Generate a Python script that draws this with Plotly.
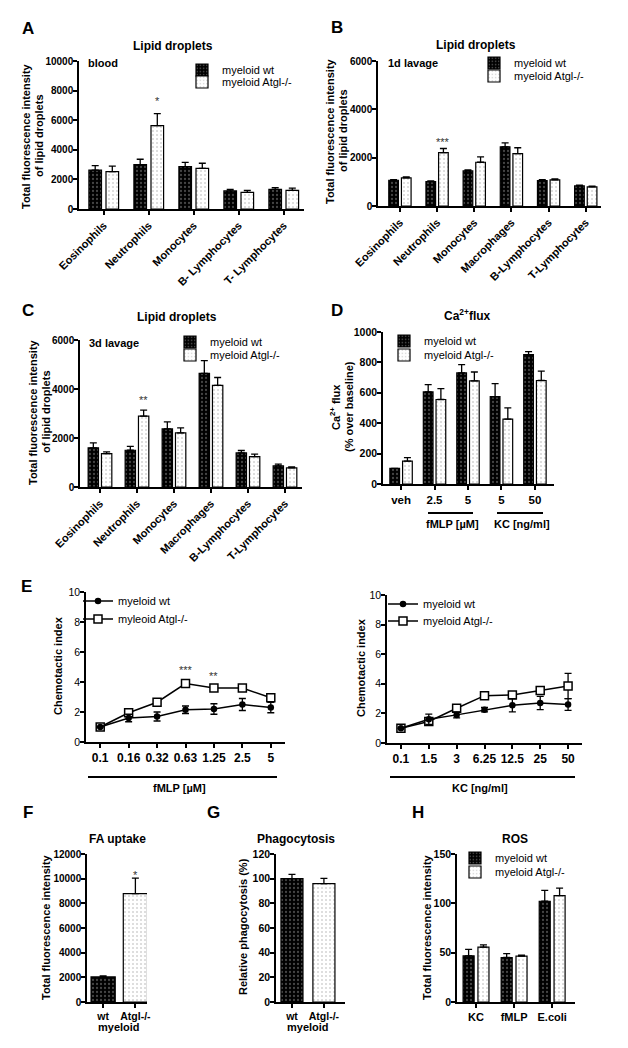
import plotly.graph_objects as go

# the page puts the figure 8px in from the window's top-left corner
W, H = 628, 1048
OX, OY = 8, 8
FW, FH = W - OX, H - OY
FONT = "Liberation Sans"

# A - lipid droplets, blood
a_cells = ["Eosinophils", "Neutrophils", "Monocytes", "B- Lymphocytes", "T- Lymphocytes"]
a_wt = [2630, 3000, 2860, 1220, 1330]
a_wt_err = [300, 360, 290, 110, 110]
a_ko = [2520, 5630, 2750, 1130, 1260]
a_ko_err = [380, 810, 340, 130, 150]

# B - lipid droplets, 1d lavage
b_cells = ["Eosinophils", "Neutrophils", "Monocytes", "Macrophages", "B-Lymphocytes", "T-Lymphocytes"]
b_wt = [1065, 1010, 1450, 2450, 1050, 830]
b_wt_err = [30, 30, 40, 160, 40, 30]
b_ko = [1160, 2210, 1810, 2170, 1080, 790]
b_ko_err = [40, 170, 220, 240, 40, 30]

# C - lipid droplets, 3d lavage
c_cells = ["Eosinophils", "Neutrophils", "Monocytes", "Macrophages", "B-Lymphocytes", "T-Lymphocytes"]
c_wt = [1600, 1500, 2370, 4640, 1390, 860]
c_wt_err = [200, 160, 290, 520, 100, 70]
c_ko = [1360, 2890, 2210, 4150, 1240, 780]
c_ko_err = [70, 250, 200, 320, 100, 40]

# D - Ca2+ flux
d_labels = ["veh", "2.5", "5", "5", "50"]
d_wt = [103, 606, 731, 575, 851]
d_wt_err = [0, 48, 54, 86, 20]
d_ko = [151, 556, 678, 427, 681]
d_ko_err = [22, 72, 59, 74, 61]

# E - chemotaxis
e_fmlp = ["0.1", "0.16", "0.32", "0.63", "1.25", "2.5", "5"]
e_fmlp_wt = [1.0, 1.6, 1.7, 2.15, 2.2, 2.5, 2.3]
e_fmlp_wt_err = [0, 0.25, 0.3, 0.25, 0.35, 0.4, 0.35]
e_fmlp_ko = [1.0, 1.95, 2.65, 3.9, 3.6, 3.6, 2.95]
e_fmlp_ko_err = [0, 0.15, 0.1, 0.15, 0.15, 0.2, 0.2]

e_kc = ["0.1", "1.5", "3", "6.25", "12.5", "25", "50"]
e_kc_wt = [1.0, 1.6, 1.9, 2.25, 2.55, 2.7, 2.6]
e_kc_wt_err = [0, 0.35, 0.2, 0.15, 0.45, 0.45, 0.4]
e_kc_ko = [1.0, 1.45, 2.35, 3.2, 3.25, 3.55, 3.85]
e_kc_ko_err = [0, 0.1, 0.15, 0.2, 0.15, 0.15, 0.85]

# F - FA uptake
f_groups = ["wt", "Atgl-/-"]
f_vals = [2030, 8780]
f_err = [80, 1270]

# G - phagocytosis
g_groups = ["wt", "Atgl-/-"]
g_vals = [100, 96]
g_err = [3.5, 4.3]

# H - ROS
h_stim = ["KC", "fMLP", "E.coli"]
h_wt = [46.8, 45.1, 102.1]
h_wt_err = [6.5, 4.0, 11.0]
h_ko = [55.6, 46.5, 107.9]
h_ko_err = [2.2, 1.0, 7.5]

WT_MARKER = dict(color="black", line=dict(color="black", width=1.2),
                 pattern=dict(shape=".", bgcolor="black", fgcolor="#8a8a8a", size=4, solidity=0.25))
KO_MARKER = dict(color="white", line=dict(color="black", width=1.2),
                 pattern=dict(shape=".", bgcolor="white", fgcolor="#a8a8a8", size=4, solidity=0.2))

fig = go.Figure()
annotations = []
shapes = []


def px(x):
    return (x - OX) / FW


def py(y):
    return 1 - (y - OY) / FH


def sfx(n):
    return "" if n == 1 else str(n)


def err(vals, up_only=True):
    d = dict(type="data", array=vals, color="black", thickness=1.3, width=3.5)
    if up_only:
        d.update(symmetric=False, arrayminus=[0] * len(vals))
    return d


def bar_pair(n, wt, wt_e, ko, ko_e, w, gap, legs):
    x = list(range(len(wt)))
    fig.add_trace(go.Bar(x=x, y=wt, width=w, offset=-w - gap / 2, marker=WT_MARKER,
                         error_y=err(wt_e), name="myeloid wt", legend=legs[0],
                         xaxis="x" + sfx(n), yaxis="y" + sfx(n)))
    fig.add_trace(go.Bar(x=x, y=ko, width=w, offset=gap / 2, marker=KO_MARKER,
                         error_y=err(ko_e), name="myeloid Atgl-/-", legend=legs[1],
                         xaxis="x" + sfx(n), yaxis="y" + sfx(n)))


def axis_pair(n, xpx, ypx, labels, xrange, yrange, dtick, xangle=0, xsize=11,
              yweight="bold", ysize=10.5, xticks=True):
    s = sfx(n)
    base = dict(showline=True, linecolor="black", linewidth=1.5, showgrid=False,
                zeroline=False, ticks="outside", tickcolor="black", tickwidth=1.5,
                fixedrange=True, automargin=False)
    fig.update_layout(**{
        "xaxis" + s: dict(base, domain=[px(xpx[0]), px(xpx[1])], anchor="y" + s, range=xrange,
                          tickmode="array", tickvals=list(range(len(labels))),
                          ticktext=labels, tickangle=xangle,
                          ticklen=4 if xticks else 0,
                          tickfont=dict(family=FONT, size=xsize, color="black", weight="bold")),
        "yaxis" + s: dict(base, domain=[py(ypx[1]), py(ypx[0])], anchor="x" + s, range=yrange,
                          tick0=0, dtick=dtick, ticklen=4, tickformat="d", ticklabelstandoff=-2,
                          tickfont=dict(family=FONT, size=ysize, color="black", weight=yweight)),
    })


def text(t, x, y, size=11, bold=True, xanchor="center", angle=0):
    annotations.append(dict(text=t, x=px(x), y=py(y), xref="paper", yref="paper",
                            xanchor=xanchor, yanchor="middle", showarrow=False, textangle=angle,
                            font=dict(family=FONT, size=size, color="black",
                                      weight="bold" if bold else "normal")))


def star(t, n, x, y):
    annotations.append(dict(text=t, x=x, y=y, xref="x" + sfx(n), yref="y" + sfx(n),
                            showarrow=False, yanchor="middle",
                            font=dict(family=FONT, size=11, color="#333333")))


def hline(x0, x1, y):
    shapes.append(dict(type="line", xref="paper", yref="paper", x0=px(x0), x1=px(x1),
                       y0=py(y), y1=py(y), line=dict(color="black", width=2)))


# ---- A
bar_pair(1, a_wt, a_wt_err, a_ko, a_ko_err, 0.28, 0.1, ["legend", "legend2"])
axis_pair(1, (79, 304), (61, 209), a_cells, [-0.55, 4.45], [0, 10000], 2000, xangle=-45, ysize=10)
# ---- B
bar_pair(2, b_wt, b_wt_err, b_ko, b_ko_err, 0.26, 0.08, ["legend3", "legend4"])
axis_pair(2, (378, 601), (61, 206), b_cells, [-0.59, 5.41], [0, 6000], 2000, xangle=-45, ysize=10)
# ---- C
bar_pair(3, c_wt, c_wt_err, c_ko, c_ko_err, 0.28, 0.08, ["legend5", "legend6"])
axis_pair(3, (80, 302), (340, 487), c_cells, [-0.54, 5.46], [0, 6000], 2000, xangle=-45, ysize=10)
# ---- D
bar_pair(4, d_wt, d_wt_err, d_ko, d_ko_err, 0.29, 0.09, ["legend7", "legend8"])
axis_pair(4, (383, 554), (332, 484), d_labels, [-0.54, 4.57], [0, 1000], 200, xsize=11.5)

# ---- E (two line charts)
for n, labels, wt, wt_e, ko, ko_e, legs in [
    (5, e_fmlp, e_fmlp_wt, e_fmlp_wt_err, e_fmlp_ko, e_fmlp_ko_err, ["legend9", "legend10"]),
    (6, e_kc, e_kc_wt, e_kc_wt_err, e_kc_ko, e_kc_ko_err, ["legend11", "legend12"]),
]:
    x = list(range(len(labels)))
    fig.add_trace(go.Scatter(x=x, y=ko, mode="lines+markers", name="myleoid Atgl-/-" if n == 5 else "myeloid Atgl-/-",
                             line=dict(color="black", width=1.5),
                             marker=dict(symbol="square", size=8, color="white", line=dict(color="black", width=1.5)),
                             error_y=err(ko_e, up_only=False), legend=legs[1],
                             xaxis="x" + sfx(n), yaxis="y" + sfx(n)))
    fig.add_trace(go.Scatter(x=x, y=wt, mode="lines+markers", name="myeloid wt",
                             line=dict(color="black", width=1.5),
                             marker=dict(symbol="circle", size=6.5, color="black"),
                             error_y=err(wt_e, up_only=False), legend=legs[0],
                             xaxis="x" + sfx(n), yaxis="y" + sfx(n)))
axis_pair(5, (86, 285), (592, 742), e_fmlp, [-0.5, 6.5], [0, 10], 2, xsize=12, yweight="normal", ysize=10.5)
axis_pair(6, (387, 582), (595, 743), e_kc, [-0.5, 6.5], [0, 10], 2, xsize=12, yweight="normal", ysize=10.5)

# ---- F, G (single bars)
for n, vals, e in [(7, f_vals, f_err), (8, g_vals, g_err)]:
    w = 0.75 if n == 7 else 0.69
    for i, mk in enumerate([WT_MARKER, KO_MARKER]):
        fig.add_trace(go.Bar(x=[i], y=[vals[i]], width=w, offset=-w / 2, marker=mk,
                             error_y=err([e[i]]), showlegend=False,
                             xaxis="x" + sfx(n), yaxis="y" + sfx(n)))
axis_pair(7, (87, 147), (854, 1002), f_groups, [-0.5, 1.36], [0, 12000], 2000, xsize=10.5, ysize=10)
axis_pair(8, (276, 345), (854, 1002), g_groups, [-0.5, 1.66], [0, 120], 20, xsize=10.5)

# ---- H
bar_pair(9, h_wt, h_wt_err, h_ko, h_ko_err, 0.29, 0.1, ["legend13", "legend14"])
axis_pair(9, (457, 575), (854, 1002), h_stim, [-0.5, 2.6], [0, 150], 50)

# legends: one per entry so rows can sit as tight as in the original
legend_pos = {
    "legend": (222, 70), "legend2": (222, 82),
    "legend3": (514, 63), "legend4": (514, 76),
    "legend5": (210, 342), "legend6": (210, 355),
    "legend7": (424, 341), "legend8": (424, 355),
    "legend9": (118, 601), "legend10": (118, 619),
    "legend11": (423, 604), "legend12": (423, 621),
    "legend13": (495, 858), "legend14": (495, 872),
}
for key, (tx, ty) in legend_pos.items():
    fig.update_layout(**{key: dict(x=px(tx - 40), y=py(ty), xanchor="left", yanchor="middle",
                                   bgcolor="rgba(0,0,0,0)", borderwidth=0, itemwidth=30,
                                   tracegroupgap=0, itemclick=False, itemdoubleclick=False,
                                   font=dict(family=FONT, size=11, color="black"))})

# panel letters
for t, x, y in [("A", 28, 28), ("B", 337, 27), ("C", 28, 310), ("D", 337, 310),
                ("E", 26, 586), ("F", 28, 812), ("G", 213, 812), ("H", 418, 812)]:
    text(t, x, y, size=17)

# panel titles
for t, x, y in [("Lipid droplets", 173, 46), ("Lipid droplets", 476, 45), ("Lipid droplets", 177, 317),
                ("Ca<sup>2+</sup>flux", 467, 315), ("FA uptake", 117, 839),
                ("Phagocytosis", 296, 839), ("ROS", 515, 839)]:
    text(t, x, y, size=12)

text("blood", 86, 63, xanchor="left")
text("1d lavage", 386, 63, xanchor="left")
text("3d lavage", 87, 343, xanchor="left")

# y-axis titles (two-line ones as separate lines for tighter spacing)
for t, x, y in [("Total fluorescence intensity", 26, 136), ("of lipid droplets", 39, 136),
                ("Total fluorescence intensity", 330, 131), ("of lipid droplets", 343, 131),
                ("Total fluorescence intensity", 33, 412), ("of lipid droplets", 46, 412),
                ("Ca<sup>2+</sup> flux", 335, 407), ("(% over baseline)", 349, 407),
                ("Chemotactic index", 58, 666), ("Chemotactic index", 361, 668),
                ("Total fluorescence intensity", 46, 927),
                ("Relative phagocytosis (%)", 243, 927),
                ("Total fluorescence intensity", 427, 927)]:
    text(t, x, y, angle=-90)

# significance
star("*", 1, 1.19, 7300)
star("***", 2, 1.17, 2650)
star("**", 3, 1.18, 3550)
star("***", 5, 3, 4.8)
star("**", 5, 4, 4.4)
star("*", 7, 1, 10300)

# group labels under axes
hline(428, 473, 513)
hline(497, 543, 513)
text("fMLP [µM]", 452, 524)
text("KC [ng/ml]", 522, 524)
hline(88, 277, 777)
text("fMLP [µM]", 179, 788)
hline(390, 575, 777)
text("KC [ng/ml]", 480, 788)
text("myeloid", 119, 1027)
text("myeloid", 308, 1027)

fig.update_layout(width=FW, height=FH, margin=dict(l=0, r=0, t=0, b=0, autoexpand=False),
                  paper_bgcolor="white", plot_bgcolor="white", barmode="overlay",
                  annotations=annotations, shapes=shapes,
                  font=dict(family=FONT, color="black"))

fig.write_html("out.html")
